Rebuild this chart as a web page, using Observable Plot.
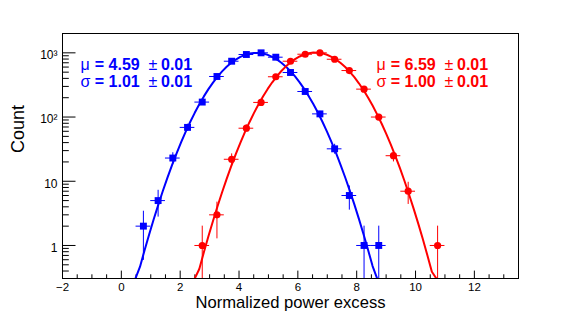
<!DOCTYPE html>
<html>
<head>
<meta charset="utf-8">
<script src="https://cdn.jsdelivr.net/npm/d3@7"></script>
<script src="https://cdn.jsdelivr.net/npm/@observablehq/plot@0.6"></script>
<style>
  html, body { margin: 0; padding: 0; background: #fff; }
</style>
</head>
<body>
<div id="chart"></div>
<script>
// ---- data ----
const blueBinCenter = [0.75, 1.25, 1.75, 2.25, 2.75, 3.25, 3.75, 4.25, 4.75, 5.25, 5.75, 6.25, 6.75, 7.25, 7.75, 8.25, 8.75];
const blueCount     = [2, 5, 23, 69, 171, 428, 740, 942, 1000, 855, 494, 250, 112, 32, 6, 1, 1];
const redBinCenter  = [2.75, 3.25, 3.75, 4.25, 4.75, 5.25, 5.75, 6.25, 6.75, 7.25, 7.75, 8.25, 8.75, 9.25, 9.75, 10.75];
const redCount      = [1, 3, 22, 67, 169, 424, 740, 951, 1000, 794, 530, 272, 100, 25, 7, 1];
const binHalfWidth = 0.25;

// Gaussian fit parameters (blue, red)
const fitMean  = [4.59, 6.59];
const fitSigma = [1.01, 1.00];
const fitAmp   = [1000, 1010];
const meanLabel  = ["4.59", "6.59"];
const sigmaLabel = ["1.01", "1.00"];
const errLabel   = ["0.01", "0.01"];

const xTicks = [-2, 0, 2, 4, 6, 8, 10, 12];
const yTicks = [1, 10, 100, 1000];
const yTickLabels = ["1", "10", "10²", "10³"];
const xTitle = "Normalized power excess";
const yTitle = "Count";

// ---- layout ----
const W = 581, H = 312;
const mL = 62, mR = 63, mT = 33, mB = 34;
const plotW = W - mL - mR, plotH = H - mT - mB;
const xDomain = [-2, 13.5];
const yDomain = [0.306, 2000];
const BLUE = "#0000ff", RED = "#ff0000";

function points(xs, ys) {
  return xs.map((x, i) => ({
    x, y: ys[i],
    lo: Math.max(ys[i] - Math.sqrt(ys[i]), yDomain[0]),
    hi: ys[i] + Math.sqrt(ys[i])
  }));
}
const bluePts = points(blueBinCenter, blueCount);
const redPts = points(redBinCenter, redCount);

// fit function sampled like ROOT's TF1 (100 steps over axis range)
function fitCurve(k) {
  const n = 100, s = [];
  for (let i = 0; i <= n; i++) {
    const x = xDomain[0] + (xDomain[1] - xDomain[0]) * i / n;
    const v = fitAmp[k] * Math.exp(-0.5 * ((x - fitMean[k]) / fitSigma[k]) ** 2);
    s.push({x, v});
  }
  const out = [];
  for (let i = 0; i < s.length; i++) {
    const ok = s[i].v >= yDomain[0] || (s[i-1] && s[i-1].v >= yDomain[0]) || (s[i+1] && s[i+1].v >= yDomain[0]);
    if (ok) out.push({x: s[i].x, y: Math.max(s[i].v, yDomain[0])});
  }
  return out;
}

const xMinor = d3.range(-2, 13.5 + 1e-9, 0.5).filter(v => !xTicks.includes(v));
const yMinor = [];
for (const p of [0.1, 1, 10, 100, 1000]) for (let m = 2; m <= 9; m++) {
  const v = m * p; if (v > yDomain[0] && v < yDomain[1]) yMinor.push(v);
}

function fitLabel(k, color, left) {
  const font = 16;
  const rows = [["μ", meanLabel[k], 69.5], ["σ", sigmaLabel[k], 86.3]];
  const marks = [];
  for (const [sym, val, base] of rows) {
    const pieces = [
      [sym, 0, "normal"], ["= " + val, 14.3, "bold"], ["±", 68, "normal"], [errLabel[k], 80.5, "bold"]
    ];
    for (const [t, off, wt] of pieces) {
      marks.push(Plot.text([t], {
        frameAnchor: "top-left", dx: left + off - mL, dy: base - mT,
        lineAnchor: "bottom", textAnchor: "start", fontSize: font, fontWeight: wt, fill: color
      }));
    }
  }
  return marks;
}

function seriesMarks(pts, color, symbol, r) {
  return [
    Plot.ruleX(pts, {x: "x", y1: "lo", y2: "hi", stroke: color, strokeWidth: 1, clip: true}),
    Plot.ruleY(pts, {y: "y", x1: d => d.x - binHalfWidth, x2: d => d.x + binHalfWidth, stroke: color, strokeWidth: 1, clip: true}),
    Plot.dot(pts, {x: "x", y: "y", symbol, r, fill: color, stroke: "none", clip: true})
  ];
}

const chart = Plot.plot({
  width: W, height: H,
  marginLeft: mL, marginRight: mR, marginTop: mT, marginBottom: mB,
  x: {domain: xDomain},
  y: {type: "log", domain: yDomain},
  style: {fontFamily: "'Liberation Sans', Arial, Helvetica, sans-serif", background: "#fff", color: "#000"},
  marks: [
    // ticks inside the frame
    Plot.tickX(xTicks, {x: d => d, insetTop: plotH - 7.4, stroke: "#000"}),
    Plot.tickX(xMinor, {x: d => d, insetTop: plotH - 3.7, stroke: "#000"}),
    Plot.tickY(yTicks, {y: d => d, insetRight: plotW - 13.5, stroke: "#000"}),
    Plot.tickY(yMinor, {y: d => d, insetRight: plotW - 6.8, stroke: "#000"}),
    Plot.axisX({ticks: xTicks, tickSize: 0, tickPadding: 4, fontSize: 11.5, label: null}),
    Plot.axisY({ticks: yTicks, tickSize: 0, tickPadding: 5, fontSize: 12, label: null, dy: 2.5,
      tickFormat: d => yTickLabels[yTicks.indexOf(d)]}),
    // blue series
    Plot.line(fitCurve(0), {x: "x", y: "y", stroke: BLUE, strokeWidth: 2, clip: true}),
    ...seriesMarks(bluePts, BLUE, "square", 3.9),
    // red series
    Plot.line(fitCurve(1), {x: "x", y: "y", stroke: RED, strokeWidth: 2, clip: true}),
    ...seriesMarks(redPts, RED, "circle", 3.6),
    ...fitLabel(0, BLUE, 80),
    ...fitLabel(1, RED, 376),
    Plot.text([xTitle], {frameAnchor: "bottom", dy: 307.8 - (H - mB), lineAnchor: "bottom", fontSize: 16.6}),
    Plot.text([yTitle], {frameAnchor: "left", dx: 23.5 - mL, dy: -3, rotate: -90, lineAnchor: "bottom", fontSize: 18}),
    Plot.frame({stroke: "#000", strokeWidth: 1})
  ]
});
document.getElementById("chart").appendChild(chart);
</script>
</body>
</html>
